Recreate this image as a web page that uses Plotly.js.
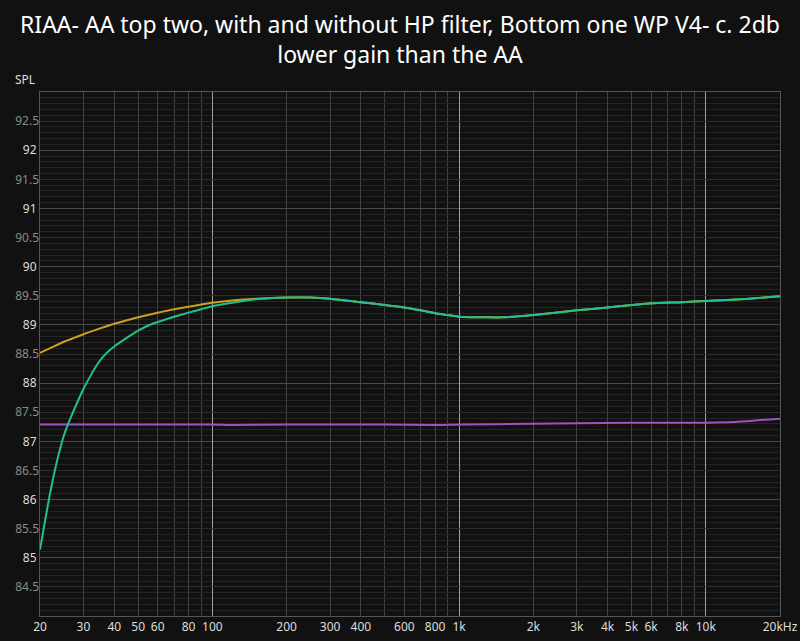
<!DOCTYPE html>
<html>
<head>
<meta charset="utf-8">
<script src="https://cdn.plot.ly/plotly-3.0.1.min.js"></script>
<style>
  html, body { margin: 0; padding: 0; background: #111111; }
  #chart { width: 800px; height: 641px; }
</style>
</head>
<body>
<div id="chart"></div>
<script>
// ---- Data ----
const freqAA = [20, 22, 25, 28, 30, 35, 40, 45, 50, 60, 70, 80, 90, 100, 120, 150, 200, 250, 300, 400, 500, 600, 700, 800, 900, 1000, 1300, 1500, 2000, 3000, 4000, 5000, 6000, 8000, 10000, 15000, 20000];
const splAANoHP = [88.52, 88.60, 88.71, 88.79, 88.84, 88.94, 89.02, 89.08, 89.13, 89.21, 89.27, 89.31, 89.35, 89.38, 89.42, 89.45, 89.47, 89.47, 89.45, 89.39, 89.34, 89.30, 89.25, 89.20, 89.17, 89.14, 89.13, 89.13, 89.17, 89.25, 89.30, 89.34, 89.37, 89.39, 89.41, 89.45, 89.49];

const freqAAHP = [20, 21, 22, 23.5, 25, 26.3, 28.4, 30, 32, 34, 36, 38, 40, 44, 50, 55, 60, 70, 80, 90, 100, 120, 150, 200, 250, 300, 400, 500, 600, 700, 800, 900, 1000, 1300, 1500, 2000, 3000, 4000, 5000, 6000, 8000, 10000, 15000, 20000];
const splAAHP = [85.14, 85.65, 86.12, 86.68, 87.10, 87.35, 87.68, 87.90, 88.12, 88.31, 88.45, 88.55, 88.63, 88.75, 88.90, 88.99, 89.05, 89.14, 89.21, 89.27, 89.32, 89.38, 89.44, 89.47, 89.47, 89.45, 89.39, 89.34, 89.30, 89.25, 89.20, 89.17, 89.14, 89.13, 89.13, 89.17, 89.25, 89.30, 89.34, 89.37, 89.39, 89.41, 89.45, 89.49];

const freqWP = [20, 50, 100, 120, 200, 500, 800, 1000, 2000, 3000, 5000, 7000, 10000, 13000, 15000, 20000];
const splWP = [87.29, 87.29, 87.29, 87.28, 87.29, 87.29, 87.28, 87.29, 87.30, 87.31, 87.32, 87.32, 87.32, 87.33, 87.35, 87.39];

const xTickVals = [20, 30, 40, 50, 60, 80, 100, 200, 300, 400, 600, 800, 1000, 2000, 3000, 4000, 5000, 6000, 8000, 10000, 20000];
const xTickText = ['20', '30', '40', '50', '60', '80', '100', '200', '300', '400', '600', '800', '1k', '2k', '3k', '4k', '5k', '6k', '8k', '10k', '20kHz'];
const xMinorVals = [70, 90, 500, 700, 900, 7000, 9000];
const xDecadeVals = [100, 1000, 10000];

const yIntVals = [85, 86, 87, 88, 89, 90, 91, 92];
const yHalfVals = [84.5, 85.5, 86.5, 87.5, 88.5, 89.5, 90.5, 91.5, 92.5];

const titleText = 'RIAA- AA top two, with and without HP filter, Bottom one WP V4- c. 2db<br>lower gain than the AA';

// ---- Chart ----
const FONT = 'Noto Sans, Open Sans, sans-serif';
const xr = [Math.log10(20), Math.log10(20000)];
const yr = [84, 93];

const traces = [
  { x: freqAA, y: splAANoHP, mode: 'lines', line: { color: '#c9a020', width: 2, shape: 'spline', smoothing: 0.6 }, name: 'AA without HP' },
  { x: freqWP, y: splWP, mode: 'lines', line: { color: '#a24fc6', width: 2, shape: 'spline', smoothing: 0.6 }, name: 'WP V4' },
  { x: freqAAHP, y: splAAHP, mode: 'lines', line: { color: '#22c08e', width: 2, shape: 'spline', smoothing: 0.6 }, name: 'AA with HP' },
  { x: [20, 20000], y: [84, 84], xaxis: 'x2', yaxis: 'y2', mode: 'lines', line: { width: 0, color: 'rgba(0,0,0,0)' }, hoverinfo: 'skip', showlegend: false }
];

const layout = {
  width: 800, height: 641,
  paper_bgcolor: '#111111', plot_bgcolor: '#111111',
  margin: { l: 40, r: 20, t: 92, b: 25 },
  showlegend: false,
  font: { family: FONT, color: '#dddddd', size: 12 },
  title: { text: titleText, font: { family: FONT, size: 23, color: '#ffffff' }, x: 0.5, xanchor: 'center', yref: 'container', y: 0.949, yanchor: 'top' },
  xaxis: {
    type: 'log', range: xr,
    tickvals: xTickVals, ticktext: xTickText, ticks: '',
    tickfont: { size: 12, color: '#dddddd' },
    showgrid: true, gridcolor: '#424242', gridwidth: 1,
    minor: { tickvals: xMinorVals, showgrid: true, gridcolor: '#424242', gridwidth: 1, ticks: '' },
    showline: true, linecolor: '#555555', mirror: true, zeroline: false, fixedrange: true
  },
  xaxis2: {
    type: 'log', range: xr, overlaying: 'x', side: 'bottom',
    tickvals: xDecadeVals, showticklabels: false, ticks: '',
    showgrid: true, gridcolor: '#a0a0a0', gridwidth: 1, showline: false, zeroline: false, fixedrange: true
  },
  yaxis: {
    range: yr, tickvals: yIntVals, ticks: '',
    tickfont: { size: 12, color: '#dddddd' },
    showgrid: true, gridcolor: '#4a4a4a', gridwidth: 1,
    minor: { dtick: 0.1, showgrid: true, gridcolor: '#242424', gridwidth: 1, ticks: '' },
    showline: true, linecolor: '#555555', mirror: true, zeroline: false, fixedrange: true
  },
  yaxis2: {
    range: yr, overlaying: 'y', side: 'left', anchor: 'x',
    tickvals: yHalfVals, ticks: '',
    tickfont: { size: 12, color: '#8a8a8a' },
    showgrid: true, gridcolor: '#2e2e2e', gridwidth: 1, showline: false, zeroline: false, fixedrange: true
  },
  annotations: [
    { text: 'SPL', xref: 'paper', yref: 'paper', x: 0, y: 1, xanchor: 'right', yanchor: 'bottom', xshift: -3, yshift: 2, showarrow: false, font: { family: FONT, size: 12, color: '#dddddd' } }
  ]
};

Plotly.newPlot('chart', traces, layout, { displayModeBar: false, staticPlot: true });
</script>
</body>
</html>
